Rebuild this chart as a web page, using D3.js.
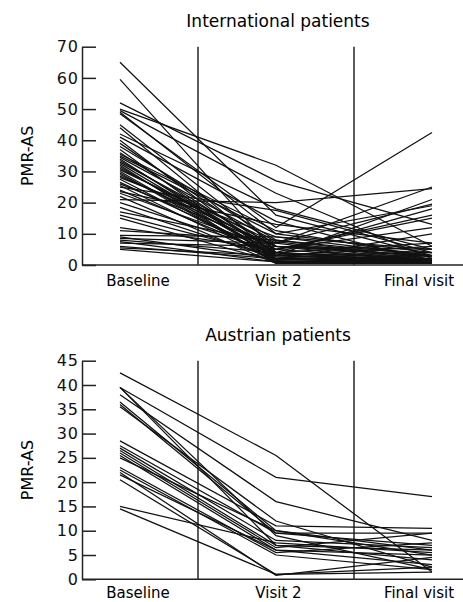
<!DOCTYPE html>
<html>
<head>
<meta charset="utf-8">
<script src="https://cdn.jsdelivr.net/npm/d3@7"></script>
<style>
  body { margin: 0; background: #fff; }
  svg { display: block; font-family: "DejaVu Sans", sans-serif; }
</style>
</head>
<body>
<svg id="chart" width="463" height="602"></svg>
<script>
// categories
const visits = ["Baseline", "Visit 2", "Final visit"]

// international patients: [baseline, visit 2, final visit]
const international = [
  [65, 16, 3], [59.5, 4, 1], [52, 27, 13], [50, 32, 6], [49.5, 23, 2],
  [49, 10, 19], [48.5, 12, 42.5], [45, 6, 3], [44, 3, 1], [42, 18, 5],
  [41, 14, 1], [40, 2, 0.5], [39, 5, 16], [38, 8, 2], [37, 1, 1],
  [36, 4, 7], [35.5, 11, 2.5], [35, 10, 4], [34, 2, 2], [33, 6, 1],
  [32.5, 3, 21], [32, 0.5, 3], [31, 5, 1.5], [30.5, 7, 19.5], [30, 1.5, 2],
  [29, 4, 1], [28, 9, 3], [27.5, 2, 10], [26, 6, 4], [25.5, 1, 1],
  [25, 17.5, 4], [24, 3, 2], [23.5, 13, 7], [23, 5, 12], [22, 0.5, 0.5],
  [21, 20, 24.5], [20, 4, 18], [18.5, 2, 3], [17, 7, 1], [16, 3, 6],
  [15, 1, 2], [12, 5, 15], [11, 8, 3], [9.5, 9, 5], [9, 2, 1],
  [8.5, 7, 25], [8, 4, 0.5], [7.5, 1, 2], [7, 6, 3], [6, 2, 1],
  [5.5, 3, 4], [5, 1, 0.5], [33.5, 4, 2], [31.5, 2.5, 1], [28.5, 6, 5],
  [26.5, 3.5, 3], [34.5, 7.5, 1.5], [29.5, 1, 0.5]
]

// austrian patients: [baseline, visit 2, final visit]
const austrian = [
  [42.5, 25.5, 1.5], [39.5, 21, 17], [38, 16, 8], [39.5, 7, 6], [39.5, 9, 2],
  [36.5, 10, 5], [36, 9.5, 9.5], [35.5, 12, 2.5], [28.5, 11, 10.5], [27.5, 9.5, 7],
  [27, 8, 6.5], [26.5, 7, 4], [26, 6.5, 9.5], [25.5, 6, 3], [25, 10, 6],
  [23, 5.5, 7.5], [22.5, 5, 2], [21.5, 6, 5], [20.5, 1, 2.5], [22, 0.8, 4.5],
  [15, 7.5, 5.5], [14.5, 1, 1.5]
]

// tick values
const intTicks = [0, 10, 20, 30, 40, 50, 60, 70]
const ausTicks = [0, 5, 10, 15, 20, 25, 30, 35, 40, 45]

const svg = d3.select('#chart')

const xScale = d3.scalePoint().domain(visits).range([120, 432])
const labelScale = d3.scalePoint().domain(visits).range([138, 419])

function drawPanel(data, ticks, top, bottom, title, titleY, labelY) {
  const g = svg.append('g')
  const yScale = d3.scaleLinear()
    .domain([0, d3.max(ticks)])
    .range([bottom, top])

  //title
  g.append('text')
    .attr('x', 278)
    .attr('y', titleY)
    .attr('text-anchor', 'middle')
    .style('font-size', '17px')
    .text(title)

  //y axis
  const yAxis = d3.axisLeft(yScale)
    .tickValues(ticks)
    .tickSizeInner(-14)
    .tickSizeOuter(0)
    .tickPadding(3)
  const ya = g.append('g')
    .attr('transform', 'translate(82, 0)')
    .call(yAxis)
  ya.selectAll('path, line').attr('stroke', '#222').attr('stroke-width', 1.5)
  ya.selectAll('text')
    .style('font-size', '16px')
    .style('letter-spacing', '1px')
    .style('font-family', '"DejaVu Sans", sans-serif')
    .attr('fill', '#111')

  //x axis line
  g.append('line')
    .attr('x1', 82).attr('x2', 463)
    .attr('y1', bottom).attr('y2', bottom)
    .attr('stroke', '#222').attr('stroke-width', 1.5)

  //separators between visits
  const seps = [
    (xScale(visits[0]) + xScale(visits[1])) / 2,
    (xScale(visits[1]) + xScale(visits[2])) / 2
  ]
  g.selectAll('.sep')
    .data(seps)
    .join('line')
    .attr('x1', d => d).attr('x2', d => d)
    .attr('y1', top).attr('y2', bottom)
    .attr('stroke', '#333').attr('stroke-width', 1.6)

  //category labels
  g.selectAll('.cat')
    .data(visits)
    .join('text')
    .attr('x', d => labelScale(d))
    .attr('y', labelY)
    .attr('text-anchor', 'middle')
    .style('font-size', '15px')
    .text(d => d)

  //y label
  g.append('text')
    .attr('transform', `translate(33, ${(top + bottom) / 2}) rotate(-90)`)
    .attr('text-anchor', 'middle')
    .style('font-size', '16px')
    .text('PMR-AS')

  //patient lines
  const line = d3.line()
    .x((d, i) => xScale(visits[i]))
    .y(d => yScale(d))
  g.selectAll('.patient')
    .data(data)
    .join('path')
    .attr('d', d => line(d))
    .attr('fill', 'none')
    .attr('stroke', '#111')
    .attr('stroke-width', 1.25)
}

drawPanel(international, intTicks, 46.7, 265, 'International patients', 27, 286)
drawPanel(austrian, ausTicks, 360.7, 579.3, 'Austrian patients', 341, 598)
</script>
</body>
</html>
